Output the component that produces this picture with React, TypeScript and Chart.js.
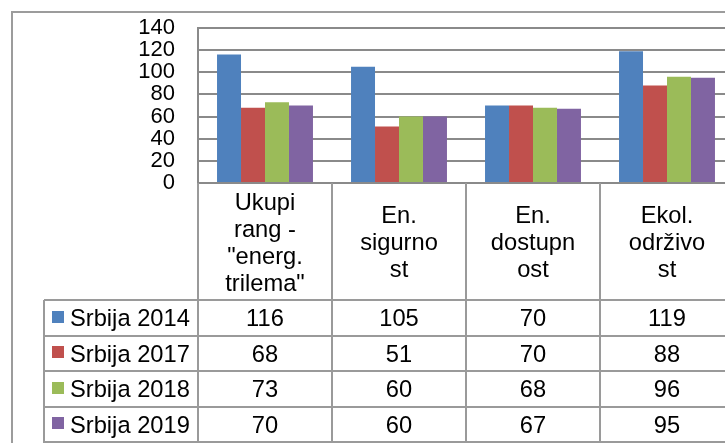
import React, { useEffect, useRef } from "react";
import { Chart, registerables } from "chart.js";

Chart.register(...registerables);

const categories = [
  'Ukupi rang - "energ. trilema"',
  "En. sigurnost",
  "En. dostupnost",
  "Ekol. održivost",
];
const categoryLines = [
  ["Ukupi", "rang -", '"energ.', 'trilema"'],
  ["En.", "sigurno", "st"],
  ["En.", "dostupn", "ost"],
  ["Ekol.", "održivo", "st"],
];
const seriesNames = ["Srbija 2014", "Srbija 2017", "Srbija 2018", "Srbija 2019"];
const srbija2014 = [116, 105, 70, 119];
const srbija2017 = [68, 51, 70, 88];
const srbija2018 = [73, 60, 68, 96];
const srbija2019 = [70, 60, 67, 95];
const seriesColors = ["#4F81BD", "#C0504D", "#9BBB59", "#8064A2"];
const yTicks = [0, 20, 40, 60, 80, 100, 120, 140];

const FONT = '"Liberation Sans", Arial, sans-serif';
const W = 770;
const H = 490;

const tablePlugin = {
  id: "dataTable",
  afterDraw(chart: any) {
    const ctx = chart.ctx as CanvasRenderingContext2D;
    const area = chart.chartArea;
    const n = categories.length;
    const colW = (area.right - area.left) / n;
    const headerBottom = 300;
    const rowH = 35.5;
    const tableLeft = 44;
    const lineColor = "#9a9a9a";
    ctx.save();
    ctx.strokeStyle = "#9c9c9c";
    ctx.lineWidth = 2;
    ctx.beginPath();
    ctx.moveTo(12, H);
    ctx.lineTo(12, 12);
    ctx.lineTo(W, 12);
    ctx.stroke();

    ctx.strokeStyle = lineColor;
    ctx.lineWidth = 2;
    ctx.beginPath();
    for (let k = 0; k <= n; k++) {
      const x = Math.round(area.left + k * colW);
      ctx.moveTo(x, area.bottom);
      ctx.lineTo(x, H);
    }
    ctx.moveTo(tableLeft, headerBottom);
    ctx.lineTo(tableLeft, H);
    for (let r = 0; r <= seriesNames.length; r++) {
      const y = Math.round(headerBottom + r * rowH);
      ctx.moveTo(tableLeft, y);
      ctx.lineTo(W, y);
    }
    ctx.stroke();

    ctx.fillStyle = "#000";
    ctx.font = `23.7px ${FONT}`;
    ctx.textAlign = "center";
    ctx.textBaseline = "alphabetic";
    const headerMid = (area.bottom + headerBottom) / 2;
    const lh = 27;
    categoryLines.forEach((lines, i) => {
      const cx = area.left + (i + 0.5) * colW;
      lines.forEach((t, j) => {
        const y = headerMid + (j - (lines.length - 1) / 2) * lh + 8.5;
        ctx.fillText(t, cx, y);
      });
    });

    const allSeries = [srbija2014, srbija2017, srbija2018, srbija2019];
    allSeries.forEach((vals, r) => {
      const top = headerBottom + r * rowH;
      const mid = top + rowH / 2;
      ctx.fillStyle = seriesColors[r];
      ctx.fillRect(52, Math.round(mid - 7), 12, 12);
      ctx.fillStyle = "#000";
      ctx.textAlign = "left";
      ctx.fillText(seriesNames[r], 70, mid + 8.5);
      ctx.textAlign = "center";
      vals.forEach((v, i) => {
        const cx = area.left + (i + 0.5) * colW;
        ctx.fillText(String(v), cx, mid + 8.5);
      });
    });
    ctx.restore();
  },
};

export default function App() {
  const ref = useRef<HTMLCanvasElement | null>(null);
  useEffect(() => {
    if (!ref.current) return;
    const data = [srbija2014, srbija2017, srbija2018, srbija2019];
    const chart = new Chart(ref.current, {
      type: "bar",
      data: {
        labels: categories,
        datasets: seriesNames.map((name, i) => ({
          label: name,
          data: data[i],
          backgroundColor: seriesColors[i],
          borderWidth: 0,
          categoryPercentage: 0.716,
          barPercentage: 1,
        })),
      },
      options: {
        responsive: false,
        animation: false,
        devicePixelRatio: 1,
        layout: { padding: { top: 28, right: W - 734, bottom: H - 183, left: 0 } },
        plugins: {
          legend: { display: false },
          tooltip: { enabled: false },
          title: { display: false },
        },
        scales: {
          x: { display: false },
          y: {
            min: 0,
            max: 140,
            afterBuildTicks: (scale: any) => {
              scale.ticks = yTicks.map((v) => ({ value: v }));
            },
            afterFit: (scale: any) => {
              scale.width = 198;
              scale.paddingTop = 0;
              scale.paddingBottom = 0;
            },
            ticks: {
              autoSkip: false,
              padding: 23,
              color: "#000",
              font: { family: FONT, size: 22, lineHeight: 0.4 },
            },
            grid: { color: "#8a8a8a", lineWidth: 2, drawTicks: false },
            border: { color: "#8a8a8a", width: 2 },
          },
        },
      },
      plugins: [tablePlugin],
    });
    return () => chart.destroy();
  }, []);
  return (
    <div
      style={{
        position: "fixed",
        left: 0,
        top: 0,
        width: 725,
        height: 443,
        overflow: "hidden",
        background: "#fff",
      }}
    >
      <canvas ref={ref} width={W} height={H} style={{ width: W, height: H, display: "block" }} />
    </div>
  );
}
